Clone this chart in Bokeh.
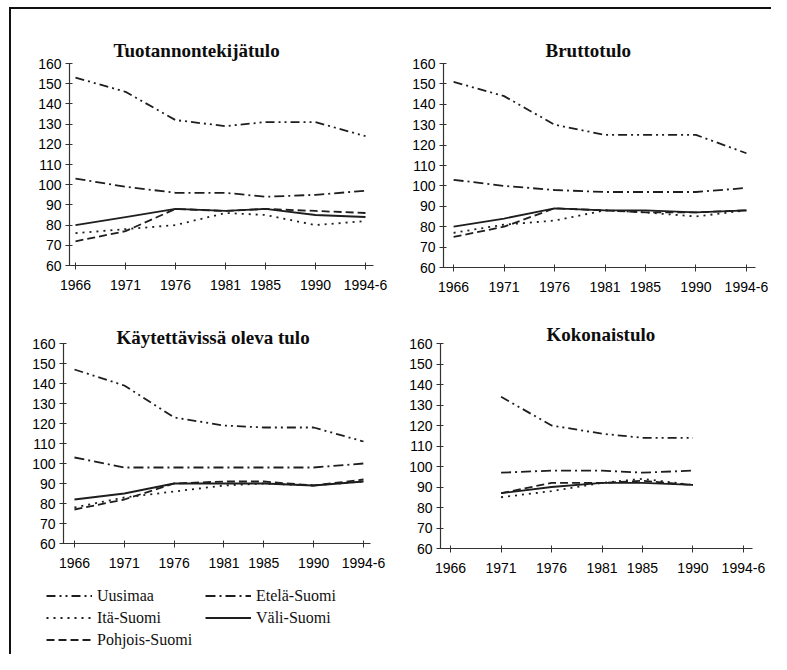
from bokeh.plotting import figure
from bokeh.layouts import column, row
from bokeh.models import FixedTicker, Range1d, Legend, LegendItem, Title, Spacer
from bokeh.embed import file_html
from bokeh.resources import INLINE

# ---------------- data ----------------
years = [1966, 1971, 1976, 1981, 1985, 1990, 1995]
year_labels = ["1966", "1971", "1976", "1981", "1985", "1990", "1994-6"]
y_ticks = [60, 70, 80, 90, 100, 110, 120, 130, 140, 150, 160]
series_names = ["Uusimaa", "Etelä-Suomi", "Itä-Suomi", "Väli-Suomi", "Pohjois-Suomi"]

# Tuotannontekijätulo
uusimaa1 = [153, 146, 132, 129, 131, 131, 124]
etela1 = [103, 99, 96, 96, 94, 95, 97]
ita1 = [76, 78, 80, 86, 85, 80, 82]
vali1 = [80, 84, 88, 87, 88, 85, 84]
pohjois1 = [72, 77, 88, 87, 88, 87, 86]

# Bruttotulo
uusimaa2 = [151, 144, 130, 125, 125, 125, 116]
etela2 = [103, 100, 98, 97, 97, 97, 99]
ita2 = [77, 81, 83, 88, 87, 85, 88]
vali2 = [80, 84, 89, 88, 88, 87, 88]
pohjois2 = [75, 80, 89, 88, 87, 87, 88]

# Käytettävissä oleva tulo
uusimaa3 = [147, 139, 123, 119, 118, 118, 111]
etela3 = [103, 98, 98, 98, 98, 98, 100]
ita3 = [78, 83, 86, 89, 90, 89, 91]
vali3 = [82, 85, 90, 90, 90, 89, 91]
pohjois3 = [77, 82, 90, 91, 91, 89, 92]

# Kokonaistulo
years4 = [1971, 1976, 1981, 1985, 1990]
uusimaa4 = [134, 120, 116, 114, 114]
etela4 = [97, 98, 98, 97, 98]
ita4 = [85, 88, 92, 94, 91]
vali4 = [87, 90, 92, 92, 91]
pohjois4 = [87, 92, 92, 93, 91]

# ---------------- styles ----------------
INK = "#1e1e1e"
dashes = {"Uusimaa": "9 4 2 4 2 4", "Etelä-Suomi": "10 4 2 4", "Itä-Suomi": "2 5",
          "Väli-Suomi": "solid", "Pohjois-Suomi": "8 4"}
SANS = "Liberation Sans"
SERIF = "Liberation Serif"


def make_panel(title, xs, data, fw, fh, bl, br, bt, bb, xr, title_offset, title_standoff):
    p = figure(output_backend="svg", toolbar_location=None,
               frame_width=fw, frame_height=fh,
               min_border_left=bl, min_border_right=br,
               min_border_top=bt, min_border_bottom=bb,
               x_range=Range1d(*xr), y_range=Range1d(60, 160),
               background_fill_color="white", border_fill_color="white",
               outline_line_color=None)
    p.title = Title(text=title, text_font=SERIF, text_font_style="bold",
                    text_font_size="19px", text_color="#0d0d0d",
                    align="left", offset=title_offset, standoff=title_standoff)
    p.grid.visible = False
    for ax in (p.xaxis[0], p.yaxis[0]):
        ax.axis_line_color = "#333333"
        ax.axis_line_width = 1.2
        ax.major_tick_line_color = "#333333"
        ax.major_tick_in = 3
        ax.major_tick_out = 4
        ax.minor_tick_line_color = None
        ax.major_label_text_font = SANS
        ax.major_label_text_font_size = "14px"
        ax.major_label_text_color = "#000000"
    p.xaxis[0].ticker = FixedTicker(ticks=years)
    p.xaxis[0].major_label_overrides = {y: l for y, l in zip(years, year_labels)}
    p.xaxis[0].major_label_standoff = 10
    p.yaxis[0].ticker = FixedTicker(ticks=y_ticks)
    p.yaxis[0].major_label_standoff = 4
    for name, vals in zip(series_names, data):
        p.line(xs, vals, line_color=INK, line_width=1.8, line_dash=dashes[name])
    return p


p1 = make_panel("Tuotannontekijätulo", years, [uusimaa1, etela1, ita1, vali1, pohjois1],
                304, 202, 58, 22, 54, 40, (1965.4, 1995.8), 44, 6)
p2 = make_panel("Bruttotulo", years, [uusimaa2, etela2, ita2, vali2, pohjois2],
                312, 204, 48, 16, 54, 38, (1965.0, 1995.9), 102, 6)
p3 = make_panel("Käytettävissä oleva tulo", years, [uusimaa3, etela3, ita3, vali3, pohjois3],
                307, 200, 52, 25, 38, 32, (1964.9, 1995.7), 53, -8)
p4 = make_panel("Kokonaistulo", years4, [uusimaa4, etela4, ita4, vali4, pohjois4],
                312, 205, 45, 19, 38, 27, (1965.0, 1995.9), 106, -2)

# legend strip: legend glyphs only (renderers hold no drawable points)
nan = float("nan")
leg = figure(output_backend="svg", toolbar_location=None, width=760, height=79,
             min_border=0, x_axis_type=None, y_axis_type=None,
             x_range=Range1d(0, 1), y_range=Range1d(0, 1),
             outline_line_color=None, background_fill_color="white",
             border_fill_color="white")
leg.grid.visible = False
leg_renderers = [leg.line([nan], [nan], line_color=INK, line_width=1.8, line_dash=dashes[n])
                 for n in series_names]
legend = Legend(
    items=[LegendItem(label=n, renderers=[r]) for n, r in zip(series_names, leg_renderers)],
    orientation="horizontal", ncols=2, location=(35, 5),
    glyph_width=46, glyph_height=19, spacing=3, label_standoff=5,
    label_width=105, padding=0, margin=0,
    label_text_font=SERIF, label_text_font_size="16px", label_text_color="#111111",
    background_fill_alpha=0, border_line_color=None,
)
leg.add_layout(legend)

main = column(row(p1, p2), row(p3, p4), leg)

LINE = {"background-color": "#111111"}
layout = column(
    Spacer(width=771, height=7),
    row(Spacer(width=9, height=2), Spacer(width=762, height=2, styles=LINE)),
    row(Spacer(width=9, height=645), Spacer(width=2, height=645, styles=LINE), main),
)

with open("out.html", "w") as f:
    f.write(file_html(layout, INLINE))
